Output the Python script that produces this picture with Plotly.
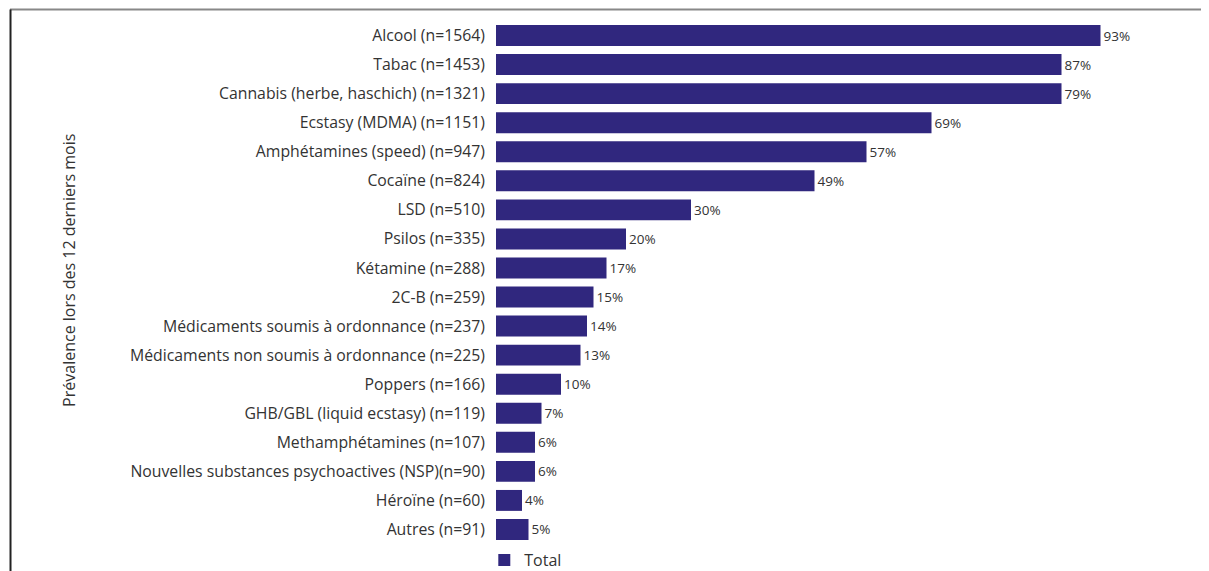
import plotly.graph_objects as go

categories = [
    "Alcool (n=1564)",
    "Tabac (n=1453)",
    "Cannabis (herbe, haschich) (n=1321)",
    "Ecstasy (MDMA) (n=1151)",
    "Amphétamines (speed) (n=947)",
    "Cocaïne (n=824)",
    "LSD (n=510)",
    "Psilos (n=335)",
    "Kétamine (n=288)",
    "2C-B (n=259)",
    "Médicaments soumis à ordonnance (n=237)",
    "Médicaments non soumis à ordonnance (n=225)",
    "Poppers (n=166)",
    "GHB/GBL (liquid ecstasy) (n=119)",
    "Methamphétamines (n=107)",
    "Nouvelles substances psychoactives (NSP)(n=90)",
    "Héroïne (n=60)",
    "Autres (n=91)",
]
# bar lengths as drawn in the picture (%)
bar_values = [93, 87, 87, 67, 57, 49, 30, 20, 17, 15, 14, 13, 10, 7, 6, 6, 4, 5]
# printed labels
label_text = ["93%", "87%", "79%", "69%", "57%", "49%", "30%", "20%", "17%", "15%",
              "14%", "13%", "10%", "7%", "6%", "6%", "4%", "5%"]

bar_color = "#30277e"
text_color = "#333333"

fig = go.Figure()
fig.add_trace(go.Bar(
    y=categories, x=bar_values, orientation="h", name="Total",
    marker=dict(color=bar_color, line=dict(width=0)),
    text=label_text, textposition="outside", cliponaxis=False,
    textfont=dict(family="Open Sans", size=13.5, color=text_color),
))

# the page adds an 8px body margin, so everything is shifted up/left by 8px
fig.update_layout(
    width=1209, height=571,
    margin=dict(l=488, r=71, t=13, b=35, autoexpand=False),
    paper_bgcolor="white", plot_bgcolor="white",
    bargap=0.28,
    showlegend=True,
    legend=dict(orientation="h", x=-0.018, xanchor="left",
                yref="container", y=0.063, yanchor="top",
                font=dict(family="Open Sans", size=16, color=text_color)),
    xaxis=dict(range=[0, 100], visible=False, fixedrange=True),
    yaxis=dict(autorange="reversed", showgrid=False, zeroline=False, showline=False,
               ticks="", ticklabelstandoff=10,
               tickfont=dict(family="Open Sans", size=15.8, color=text_color)),
    font=dict(family="Open Sans", color=text_color),
)

fig.add_annotation(
    text="Prévalence lors des 12 derniers mois", textangle=-90,
    xref="paper", yref="paper", x=-0.677, y=0.524, showarrow=False,
    font=dict(family="Open Sans", size=16, color=text_color),
)

# frame lines (top grey, left dark)
fig.add_shape(type="line", xref="paper", yref="paper",
              x0=-0.7477, x1=1.0954, y0=1.022, y1=1.022,
              line=dict(color="#888888", width=2))
fig.add_shape(type="line", xref="paper", yref="paper",
              x0=-0.7469, x1=-0.7469, y0=1.022, y1=-0.1,
              line=dict(color="#222222", width=2))

fig.write_html("out.html")
